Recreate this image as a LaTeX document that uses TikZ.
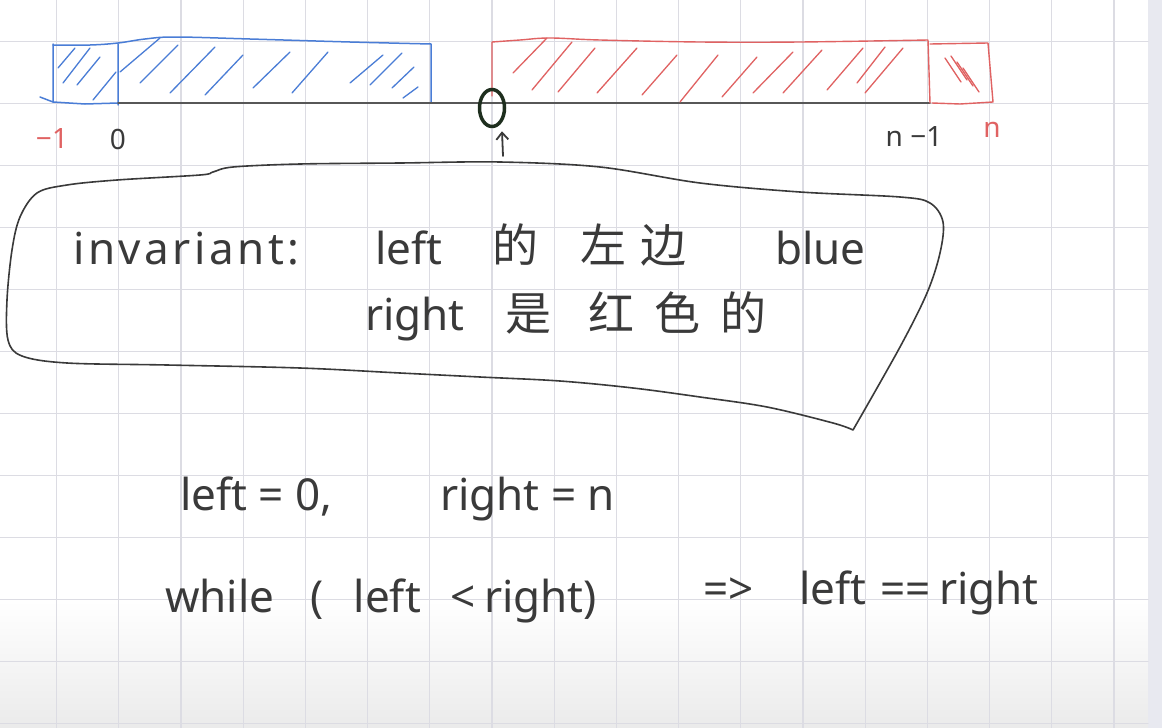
\documentclass[tikz,border=0pt]{standalone}
\usepackage{fontspec}
\setmainfont{Noto Sans}
\newfontfamily\cjk{Noto Sans CJK SC}
\usetikzlibrary{arrows.meta, shapes.geometric, positioning}
\definecolor{my_ink}{HTML}{3A3A3A}
\definecolor{my_grid}{HTML}{DCDCE3}
\definecolor{my_blue}{HTML}{4A7DD6}
\definecolor{my_red}{HTML}{E06262}
\definecolor{my_circle}{HTML}{1E2E1E}
\definecolor{my_strip}{HTML}{E8E9F0}

\begin{document}
\begin{tikzpicture}[
    x=1pt, y=-1pt, line cap=round, line join=round,
    hand/.style={font=\fontsize{44}{50}\selectfont, text=my_ink, inner sep=0pt, anchor=base west},
    handcjk/.style={font=\cjk\fontsize{46}{50}\selectfont, text=my_ink, inner sep=0pt, anchor=base west},
    tag/.style={font=\fontsize{28}{32}\selectfont, inner sep=0pt},
    hatch/.style={line width=1.3pt}
]

% Page (pixel units, y downwards)
\useasboundingbox (0,0) rectangle (1162,728);
\fill[white] (0,0) rectangle (1162,728);
\shade[top color=white, bottom color=black!8] (0,600) rectangle (1148,728);
\fill[my_strip] (1148,0) rectangle (1162,728);

% Squared paper
\foreach \i in {0,...,17}
    \draw[my_grid, line width=1.2pt] ({56.5+62.2*\i},0) -- ({56.5+62.2*\i},728);
\foreach \j in {0,...,11}
    \draw[my_grid, line width=1.4pt] (0,{41.5+62*\j}) -- (1148,{41.5+62*\j});

% Blue part: cells -1 .. left-1
\draw[my_blue, line width=1.5pt] (40,97) -- (53,102) -- (53,44);
\draw[my_blue, line width=1.5pt] plot[smooth, tension=0.6]
    coordinates {(53,45) (90,45) (118,43) (145,39) (175,37) (250,39) (350,42) (431,44)}
    -- (431,102);
\draw[my_blue, line width=1.5pt] (53,102) -- (85,104) -- (118,103) (118,44) -- (118,105);
\foreach \xa/\ya/\xb/\yb in {58/68/75/48, 63/83/90/48, 77/85/100/57, 93/100/116/72}
    \draw[my_blue, hatch] (\xa,\ya) -- (\xb,\yb);
\foreach \xa/\ya/\xb/\yb in {120/72/160/38, 140/83/178/45, 170/93/215/47, 205/95/243/55,
    253/88/290/52, 292/93/328/52, 350/83/383/55, 370/85/402/53, 392/88/414/67, 403/98/418/87}
    \draw[my_blue, hatch] (\xa,\ya) -- (\xb,\yb);

% Axis
\draw[my_ink!85, line width=1.5pt] (118,103) -- (930,103);

% Red part: right .. n-1, and cell n
\draw[my_red, line width=1.4pt] (492,96) -- plot[smooth, tension=0.6]
    coordinates {(492,42) (520,40) (550,38) (600,40) (700,42) (800,42) (928,40)}
    -- (930,103);
\draw[my_red, line width=1.4pt] (930,44) -- (988,43) -- (993,102) -- (960,104) -- (932,103);
\foreach \xa/\ya/\xb/\yb in {513/73/547/38, 532/90/572/42, 558/92/595/48, 597/93/637/48,
    642/95/677/55, 680/102/718/55, 722/97/757/57, 753/93/793/52, 783/93/822/50,
    827/90/863/48, 857/83/885/47, 865/93/903/48}
    \draw[my_red, hatch] (\xa,\ya) -- (\xb,\yb);
\foreach \xa/\ya/\xb/\yb in {945/58/961/82, 951/56/967/80, 957/62/973/86, 963/68/979/92}
    \draw[my_red, hatch] (\xa,\ya) -- (\xb,\yb);

% Marked position and arrow
\node[ellipse, draw=my_circle, line width=3.5pt, minimum width=25pt, minimum height=37pt,
    inner sep=0pt] (mid) at (492,108) {};
\coordinate (arrowtail) at (503,156);
\draw[my_ink, line width=1.8pt, -{Straight Barb[length=7pt, width=12pt]}]
    (arrowtail) -- ([xshift=10pt, yshift=-3pt]mid.south);

% Index labels
\node[tag, text=my_red] (lblminus) at (52,139) {−1};
\node[tag, text=my_ink] (lblzero) at (118,139) {0};
\node[tag, text=my_ink] (lblnminus) at (914,137) {n −1};
\node[tag, text=my_red] (lbln) at (992,130) {n};

% Invariant bubble
\draw[my_ink, line width=1.6pt] plot[smooth, tension=0.55] coordinates {
    (853,430) (833,423) (767,407) (700,397) (633,388) (560,381) (480,377) (400,373)
    (300,368) (167,365) (67,363) (22,356) (8,340) (7,300) (12,250) (20,217) (37,193)
    (67,185) (117,180) (200,175) (213,172) (233,167) (300,164) (400,163) (500,162)
    (600,167) (700,183) (800,192) (900,197) (930,203) (943,222) (940,253) (927,293)
    (900,347) (853,430)};

\node[hand, font=\fontsize{44}{50}\selectfont\addfontfeatures{LetterSpace=8}] (inv) at (73,264) {invariant:};
\node[hand] (leftw) at (375,264) {left};
\node[handcjk] (de) at (492,262) {的};
\node[handcjk] (zuobian) at (580,262) {左\hspace{14pt}边};
\node[hand] (bluew) at (775,264) {blue};
\node[hand] (rightw) at (365,330) {right};
\node[handcjk] (shi) at (505,330) {是};
\node[handcjk] (hongse) at (588,330) {红\hspace{20pt}色\hspace{20pt}的};

% Code lines
\node[hand] (leftinit) at (180,510) {left = 0,};
\node[hand] (rightinit) at (440,510) {right = n};
\node[hand] (whileloop) at (165,612) {while\hspace{36pt}(\hspace{30pt}left\hspace{30pt}<\hspace{8pt}right)};
\node[hand] (implies) at (703,604) {=>\hspace{46pt}left\hspace{14pt}==\hspace{8pt}right};

\end{tikzpicture}
\end{document}
